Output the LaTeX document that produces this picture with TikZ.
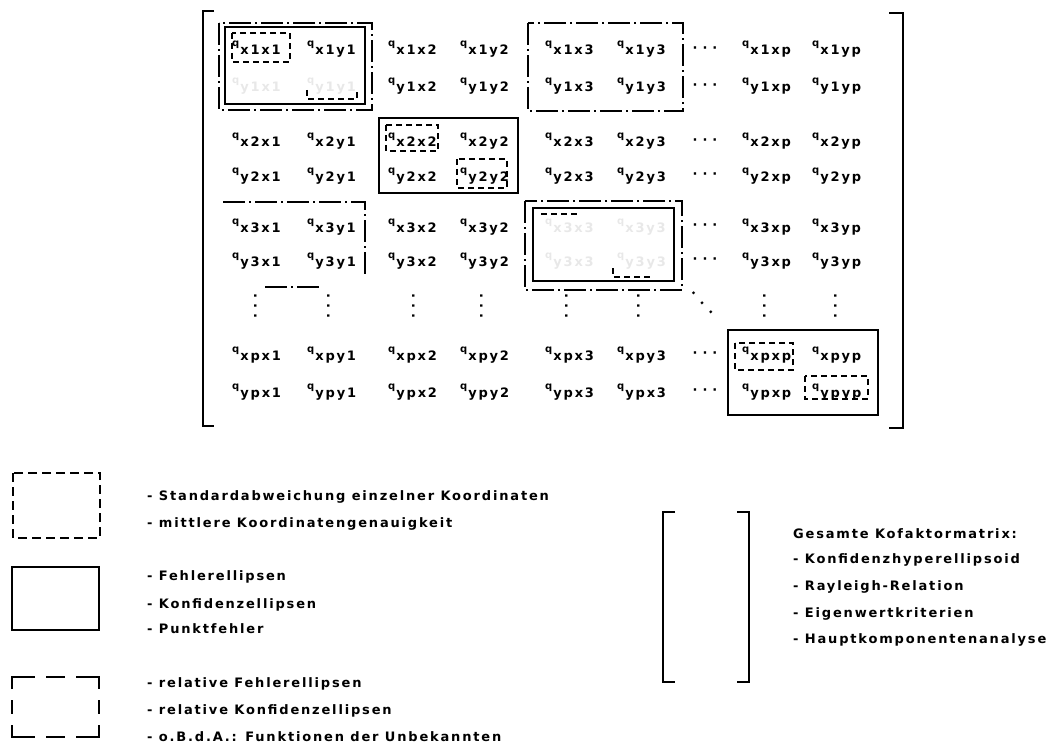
\documentclass[tikz,border=0pt]{standalone}
\usepackage{fontspec}
\setmainfont{DejaVu Sans}[LetterSpace=14]
\newfontfamily\dotfont{DejaVu Sans}
\newcommand\qe[1]{\raisebox{8pt}{\fontsize{10}{10}\selectfont q}\kern1pt #1}
\newcommand\threedots{·\kern5pt·\kern5pt·}
\begin{document}
\begin{tikzpicture}[x=1pt,y=-1pt,
  txt/.style={inner sep=0pt,font=\fontsize{13}{13}\selectfont\bfseries},
  entry/.style={txt,anchor=base west},
  dotsnode/.style={inner sep=0pt,font=\fontsize{13}{13}\selectfont\dotfont\bfseries},
  bracketline/.style={line width=2.4pt,line cap=butt},
  solidbox/.style={draw,line width=1.8pt},
  shortdash/.style={draw,line width=1.5pt,dash pattern=on 6pt off 4pt},
  dashdot/.style={draw,line width=1.8pt,dash pattern=on 22pt off 4pt on 2pt off 4pt},
  legline/.style={draw,line width=1.8pt},
  legtext/.style={txt,anchor=base west}]
\useasboundingbox (0,0) rectangle (1056,746);

% matrix brackets
\draw[bracketline] (214,11) -- (203,11) -- (203,426) -- (214,426);
\draw[bracketline] (889,13) -- (903,13) -- (903,428) -- (889,428);

% matrix entries q_{row,col}
\foreach \r/\ry/\by in {1/x1/55, 2/y1/92, 3/x2/147, 4/y2/181, 5/x3/232, 6/y3/266, 7/xp/360, 8/yp/397}{
  \foreach \c/\cx/\bx in {1/x1/232, 2/y1/307, 3/x2/388, 4/y2/460, 5/x3/545, 6/y3/617, 7/xp/742, 8/yp/812}{
    \pgfmathtruncatemacro\fd{((\r==2)&&(\c<3))||((\r>4)&&(\r<7)&&(\c>4)&&(\c<7))}
    \def\ec{black}\ifnum\fd=1 \def\ec{black!9}\fi
    \def\sub{\ry\cx}\ifnum\r=8 \ifnum\c=6 \def\sub{ypx3}\fi\fi
    \node[entry,text=\ec] (q-\r-\c) at (\bx,\by) {\qe{\sub}};
  }
}

% horizontal dots
\foreach \r/\by in {1/50, 2/87, 3/142, 4/176, 5/227, 6/261, 7/355, 8/392}
  \node[dotsnode] (hd-\r) at (705,\by) {\threedots};
% vertical dots
\foreach \c/\cx in {1/257, 2/330, 3/415, 4/483, 5/568, 6/640, 7/766, 8/837}
  \node[dotsnode,rotate=90] (vd-\c) at (\cx,306) {\threedots};
\node[dotsnode,rotate=-48] (dd) at (701,304) {·\kern8pt·\kern8pt·};

% block 1,1
\draw[dashdot] (219,23) rectangle (372,110);
\draw[solidbox] (225,27) rectangle (365,104);
\draw[shortdash] (232,33) rectangle (290,62);
\draw[shortdash] (307,90) -- (307,99) -- (357,99) -- (357,90);
% block 1,3
\draw[dashdot] (528,23) rectangle (683,111);
% block 2,2
\draw[solidbox] (379,118) rectangle (518,193);
\draw[shortdash] (386,125) rectangle (438,151);
\draw[shortdash] (457,159) rectangle (507,188);
% block 3,1
\draw[dashdot] (223,202) -- (365,202) -- (365,275);
\draw[dashdot] (265,287) -- (322,287);
% block 3,3
\draw[dashdot] (525,201) rectangle (682,290);
\draw[solidbox] (533,208) rectangle (674,281);
\draw[shortdash] (541,214) -- (580,214);
\draw[shortdash] (613,268) -- (613,277) -- (650,277);
% block p,p
\draw[solidbox] (728,330) rectangle (878,415);
\draw[shortdash] (735,343) rectangle (793,370);
\draw[shortdash] (805,376) rectangle (868,399);

% legend, left
\draw[shortdash,dash pattern=on 9pt off 5pt] (13,473) rectangle (100,538);
\node[legtext] (l1a) at (147,500) {- Standardabweichung einzelner Koordinaten};
\node[legtext] (l1b) at (147,527) {- mittlere Koordinatengenauigkeit};
\draw[solidbox] (12,567) rectangle (99,630);
\node[legtext] (l2a) at (147,580) {- Fehlerellipsen};
\node[legtext] (l2b) at (147,608) {- Konfidenzellipsen};
\node[legtext] (l2c) at (147,633) {- Punktfehler};
% long-dash box: corner pieces and middle dashes
\draw[legline] (12,689) -- (12,677) -- (35,677);
\draw[legline] (76,677) -- (99,677) -- (99,689);
\draw[legline] (12,725) -- (12,737) -- (35,737);
\draw[legline] (76,737) -- (99,737) -- (99,725);
\draw[legline] (46,677) -- (65,677);
\draw[legline] (46,737) -- (65,737);
\draw[legline] (12,700) -- (12,714);
\draw[legline] (99,700) -- (99,714);
\node[legtext] (l3a) at (147,687) {- relative Fehlerellipsen};
\node[legtext] (l3b) at (147,714) {- relative Konfidenzellipsen};
\node[legtext] (l3c) at (147,741) {- o.B.d.A.: Funktionen der Unbekannten};

% legend, right
\draw[bracketline,line width=2pt] (675,512) -- (663,512) -- (663,682) -- (675,682);
\draw[bracketline,line width=2pt] (737,512) -- (749,512) -- (749,682) -- (737,682);
\node[legtext] (r0) at (793,538) {Gesamte Kofaktormatrix:};
\node[legtext] (r1) at (793,563) {- Konfidenzhyperellipsoid};
\node[legtext] (r2) at (793,590) {- Rayleigh-Relation};
\node[legtext] (r3) at (793,617) {- Eigenwertkriterien};
\node[legtext] (r4) at (793,643) {- Hauptkomponentenanalyse};
\end{tikzpicture}
\end{document}
